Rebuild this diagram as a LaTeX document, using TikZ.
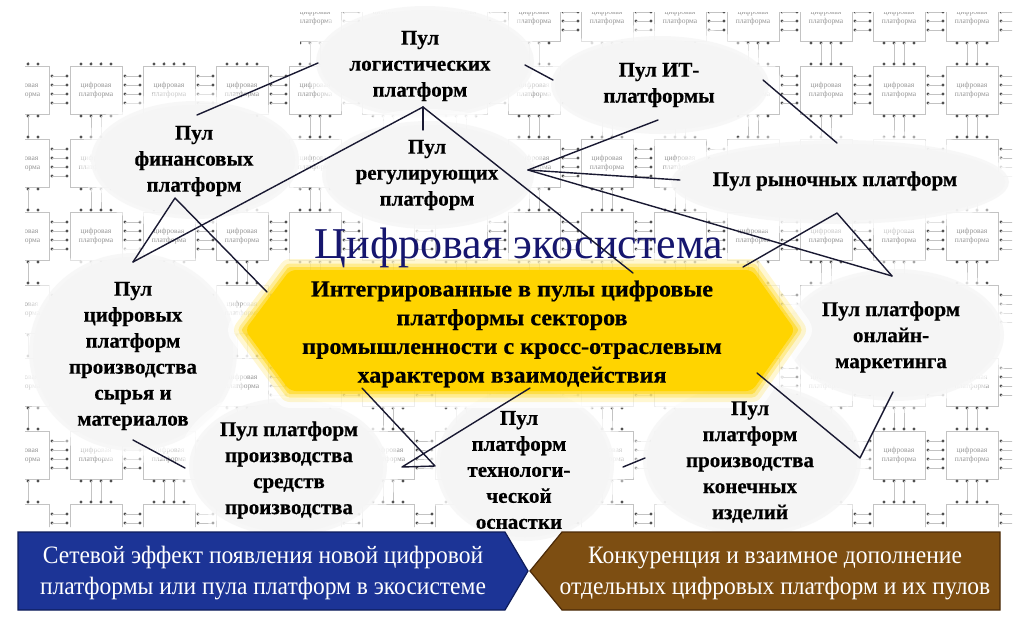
\documentclass[tikz,border=0pt]{standalone}
\usepackage{fontspec}
\setmainfont{Liberation Serif}[BoldFeatures={FakeBold=0.5}]
\newfontfamily\condfont[FakeStretch=0.94]{Liberation Serif}
\newfontfamily\hexfont[FakeStretch=1.05, BoldFeatures={FakeBold=0.5}]{Liberation Serif}
\usetikzlibrary{calc}
\definecolor{chipgray}{RGB}{195,195,195}
\definecolor{chipdotc}{RGB}{80,80,80}
\definecolor{chiptxt}{RGB}{150,150,150}
\definecolor{blobcol}{RGB}{245,245,245}
\definecolor{hexyellow}{RGB}{255,212,0}
\definecolor{titlenavy}{RGB}{22,22,110}
\definecolor{linecol}{RGB}{25,25,50}
\definecolor{bluebox}{RGB}{28,52,150}
\definecolor{blueedge}{RGB}{14,28,90}
\definecolor{brownbox}{RGB}{125,78,18}
\definecolor{brownedge}{RGB}{75,42,8}
\tikzset{
  chipline/.style={draw=chipgray, line width=0.5pt},
  chipdot/.style={fill=chipdotc},
  chiptext/.style={text=chiptxt, font=\fontsize{7.5}{9.5}\selectfont, align=center, inner sep=0},
  chipbare/.pic={
    \draw[chipline] (0,0) rectangle (52,48);
    \foreach \i in {11,21,31,41} {\fill[chipdot] (\i,-2) circle (1.6); \fill[chipdot] (\i,50) circle (1.6);}
    \foreach \j in {10,19,28,37} {\fill[chipdot] (-3,\j) circle (1.6); \fill[chipdot] (55,\j) circle (1.6);
      \draw[chipline] (55,\j) -- (69,\j);}
    \draw[chipline] (21,50) -- (21,71);
    \draw[chipline] (31,50) -- (31,71);
  },
  chip/.pic={
    \pic {chipbare};
    \node[chiptext] at (26,24) {цифровая\\платформа};
  },
  pool/.style={font=\bfseries\fontsize{21}{26}\selectfont, align=center, inner sep=0, text=black},
  conn/.style={draw=linecol, line width=1.4pt, line join=round, line cap=round},
}
\def\cloudlist{425/62/105/52, 660/85/105/45, 195/160/100/55, 428/175/102/50, 840/182/165/38, 133/352/100/95, 895/335/105/62, 288/467/95/65, 525/465/85/72, 752/460/105/72}
% bounding boxes of the main texts (x1/y1/x2/y2), chip labels are left out where they would overlap them
\def\textboxes{347/33/493/100, 602/63/715/102, 133/128/255/193, 355/140/498/208, 710/170/960/192, 68/282/198/427, 820/303/962/370, 220/418/360/520, 468/405/570/530, 683/397/817/520, 302/280/722/390, 315/225/723/270}
\begin{document}
\begin{tikzpicture}[x=1pt,y=-1pt]
\useasboundingbox (0,0) rectangle (1024,625);
\fill[white] (0,0) rectangle (1024,625);
% background chips
\begin{scope}
\clip (25,62) -- (300,62) -- (300,12) -- (1012,12) -- (1012,527) -- (25,527) -- cycle;
\foreach \cx in {-3,70,143,216,289,362,435,508,581,654,727,800,873,946} {
  \foreach \cy in {-7,66,139,212,285,358,431} {
    \pgfmathsetmacro\px{\cx+26}
    \pgfmathsetmacro\py{\cy+24}
    \gdef\chiphit{0}
    \foreach \ax/\ay/\bx/\by in \textboxes {
      \pgfmathtruncatemacro\hit{((\px>\ax-20)&&(\px<\bx+20)&&(\py>\ay-10)&&(\py<\by+10)) ? 1 : 0}
      \ifnum\hit=1 \gdef\chiphit{1}\fi
    }
    \ifnum\chiphit=1 \pic at (\cx,\cy) {chipbare}; \else \pic at (\cx,\cy) {chip}; \fi
  }
  \pic at (\cx,504) {chipbare};
}
\end{scope}
% clouds
\foreach \bx/\by/\rx/\ry in \cloudlist {
  \fill[white, opacity=0.5] (\bx,\by) ellipse [x radius=\rx+16, y radius=\ry+16];
  \fill[white, opacity=0.6] (\bx,\by) ellipse [x radius=\rx+9, y radius=\ry+9];
  \fill[blobcol, opacity=0.7] (\bx,\by) ellipse [x radius=\rx+4, y radius=\ry+4];
  \fill[blobcol] (\bx,\by) ellipse [x radius=\rx, y radius=\ry];
}
% hexagon
\def\hexpath{(245,330) -- (290,270) -- (752,270) -- (795,330) -- (752,391) -- (290,391) -- cycle}
\draw[white, opacity=0.7, line width=34pt, line join=round] \hexpath;
\draw[hexyellow, opacity=0.18, line width=22pt, line join=round] \hexpath;
\draw[hexyellow, opacity=0.3, line width=13pt, line join=round] \hexpath;
\draw[hexyellow, opacity=0.5, line width=6pt, line join=round] \hexpath;
\fill[hexyellow, rounded corners=6pt] \hexpath;
% title
\node[anchor=base, text=titlenavy, font=\fontsize{44}{47}\selectfont, inner sep=0] (title) at (519,258) {Цифровая экосистема};
% connector end points
\coordinate (c1a) at (197,115); \coordinate (c1b) at (318,63);
\coordinate (lgB) at (423,107); \coordinate (syT) at (133,262);
\coordinate (rgT) at (423,130); \coordinate (hxT) at (633,273);
\coordinate (c5a) at (525,65); \coordinate (c5b) at (553,80);
\coordinate (rgR) at (528,170); \coordinate (itB) at (658,120);
\coordinate (mkL) at (680,180); \coordinate (onT) at (892,276);
\coordinate (hxTR) at (743,267); \coordinate (mkB) at (837,213);
\coordinate (itR) at (763,80); \coordinate (mkT) at (837,143);
\coordinate (fnB) at (175,198); \coordinate (hxL) at (267,292);
\coordinate (c13a) at (133,440); \coordinate (c13b) at (185,468);
\coordinate (hxBL) at (362,388); \coordinate (tcL) at (435,466);
\coordinate (sdR) at (402,467); \coordinate (hxB) at (530,388);
\coordinate (c15a) at (623,467); \coordinate (c15b) at (645,458);
\coordinate (hxBR) at (757,373); \coordinate (knR) at (860,458);
\coordinate (onB) at (893,392);
% connectors
\draw[conn] (c1a) -- (c1b);
\draw[conn] (lgB) -- (syT);
\draw[conn] (lgB) -- (rgT);
\draw[conn] (lgB) -- (hxT);
\draw[conn] (c5a) -- (c5b);
\draw[conn] (rgR) -- (itB);
\draw[conn] (rgR) -- (mkL);
\draw[conn] (rgR) -- (onT);
\draw[conn] (hxTR) -- (mkB) -- (onT);
\draw[conn] (itR) -- (mkT);
\draw[conn] (fnB) -- (syT);
\draw[conn] (fnB) -- (hxL);
\draw[conn] (c13a) -- (c13b);
\draw[conn] (hxBL) -- (tcL) -- (sdR) -- (hxB);
\draw[conn] (c15a) -- (c15b);
\draw[conn] (hxBR) -- (knR) -- (onB);
% pool nodes
\node[pool] (log) at (420,66) {Пул\\логистических\\платформ};
\node[pool] (it) at (659,85) {Пул ИТ-\\платформы};
\node[pool] (fin) at (194,161) {Пул\\финансовых\\платформ};
\node[pool] (reg) at (427,175) {Пул\\регулирующих\\платформ};
\node[pool] (mkt) at (835,181) {Пул рыночных платформ};
\node[pool] (syr) at (133,356) {Пул\\цифровых\\платформ\\производства\\сырья и\\материалов};
\node[pool] (onl) at (891,337) {Пул платформ\\онлайн-\\маркетинга};
\node[pool] (sre) at (289,470) {Пул платформ\\производства\\средств\\производства};
\node[pool] (tec) at (519,470) {Пул\\платформ\\технологи-\\ческой\\оснастки};
\node[pool] (kon) at (750,462) {Пул\\платформ\\производства\\конечных\\изделий};
\node[pool, font=\hexfont\bfseries\fontsize{23}{28.7}\selectfont] (hex) at (512,334) {Интегрированные в пулы цифровые\\платформы секторов\\промышленности с кросс-отраслевым\\характером взаимодействия};
% bottom arrows
\draw[fill=bluebox, draw=blueedge, line width=1.2pt] (18,532) -- (505,532) -- (528,571) -- (505,610) -- (18,610) -- cycle;
\draw[fill=brownbox, draw=brownedge, line width=1.2pt] (562,532) -- (1000,532) -- (1000,610) -- (562,610) -- (530,571) -- cycle;
\node[text=white, align=center, inner sep=0, font=\condfont\fontsize{25}{31}\selectfont] (net) at (263,573) {Сетевой эффект появления новой цифровой\\платформы или пула платформ в экосистеме};
\node[text=white, align=center, inner sep=0, font=\condfont\fontsize{25}{31}\selectfont] (comp) at (775,573) {Конкуренция и взаимное дополнение\\отдельных цифровых платформ и их пулов};
\end{tikzpicture}
\end{document}
